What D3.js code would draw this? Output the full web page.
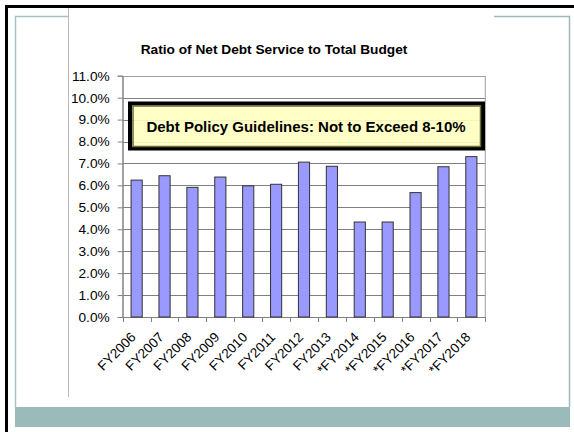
<!DOCTYPE html>
<html><head><meta charset="utf-8">
<script src="https://cdn.jsdelivr.net/npm/d3@7"></script>
<style>html,body{margin:0;padding:0;background:#fff;overflow:hidden;}svg{display:block;}</style>
</head><body>
<script>
const categories = ["FY2006","FY2007","FY2008","FY2009","FY2010","FY2011","FY2012","FY2013","*FY2014","*FY2015","*FY2016","*FY2017","*FY2018"];
const ratios = [6.24, 6.44, 5.91, 6.38, 5.98, 6.05, 7.06, 6.87, 4.33, 4.33, 5.67, 6.85, 7.31];
const yTicks = [0,1,2,3,4,5,6,7,8,9,10,11];
const titleText = "Ratio of Net Debt Service to Total Budget";
const noteText = "Debt Policy Guidelines: Not to Exceed 8-10%";

const W = 574, H = 432;
const svg = d3.select("body").append("svg").attr("width", W).attr("height", H);
const font = "'Liberation Sans', Arial, sans-serif";

// slide decoration
svg.append("rect").attr("x",0).attr("y",0).attr("width",W).attr("height",H).attr("fill","#fff");
svg.append("path").attr("d","M6.5,432 V6.5 H574").attr("fill","none").attr("stroke","#000").attr("stroke-width",3);
svg.append("path").attr("d","M15.5,407 V16.5 H68").attr("fill","none").attr("stroke","#a3c2c2").attr("stroke-width",1.5);
svg.append("path").attr("d","M494,16.5 H569.5 V407").attr("fill","none").attr("stroke","#9bbbbb").attr("stroke-width",1.5);
svg.append("rect").attr("x",15).attr("y",407).attr("width",555).attr("height",20).attr("fill","#9bbbbb");
svg.append("line").attr("x1",68.5).attr("x2",68.5).attr("y1",8).attr("y2",397).attr("stroke","#bbb").attr("stroke-width",1);

// chart
const m = {l:122.7, r:485.3, t:75.7, b:317};
const x = d3.scaleBand().domain(categories).range([m.l, m.r]).paddingInner(0).paddingOuter(0);
const y = d3.scaleLinear().domain([0, 11]).range([m.b, m.t]);

svg.append("text").attr("x",274).attr("y",54).attr("text-anchor","middle")
  .attr("font-family",font).attr("font-size",13.7).attr("font-weight","bold").text(titleText);

// gridlines
svg.append("g").selectAll("line").data(yTicks.filter(d=>d>0 && d<11)).join("line")
  .attr("x1",m.l).attr("x2",m.r).attr("y1",d=>Math.round(y(d))+0.5).attr("y2",d=>Math.round(y(d))+0.5)
  .attr("stroke","#808080").attr("stroke-width",1);
svg.append("rect").attr("x",m.l).attr("y",Math.round(y(11))+0.5).attr("width",m.r-m.l).attr("height",Math.round(y(0))-Math.round(y(11)))
  .attr("fill","none").attr("stroke","#a0a0a0").attr("stroke-width",1);

// y axis
const yAxis = d3.axisLeft(y).tickValues(yTicks).tickFormat(d=>d.toFixed(1)+"%").tickSize(5).tickPadding(8);
const gy = svg.append("g").attr("transform",`translate(${m.l},0)`).call(yAxis);
gy.select(".domain").attr("stroke","#808080");
gy.selectAll(".tick line").attr("stroke","#808080");
gy.selectAll("text").attr("font-family",font).attr("font-size",13.7).attr("fill","#000");

// x axis
const gx = svg.append("g").attr("transform",`translate(0,${m.b})`);
gx.append("line").attr("x1",m.l).attr("x2",m.r).attr("y1",0.5).attr("y2",0.5).attr("stroke","#808080");
const bounds = categories.map(c=>x(c)).concat([m.r]);
gx.selectAll(".tk").data(bounds).join("line").attr("class","tk")
  .attr("x1",d=>Math.round(d)+0.5).attr("x2",d=>Math.round(d)+0.5).attr("y1",0).attr("y2",5).attr("stroke","#808080");
gx.selectAll(".lbl").data(categories).join("text").attr("class","lbl")
  .attr("transform",d=>`translate(${x(d)+x.bandwidth()/2},${21}) rotate(-45)`)
  .attr("text-anchor","end").attr("font-family",font).attr("font-size",13.5).attr("fill","#000").text(d=>d);

// bars
const bw = x.bandwidth()*0.4;
svg.append("g").selectAll("rect").data(ratios).join("rect")
  .attr("x",(d,i)=>x(categories[i])+x.bandwidth()/2-bw/2).attr("width",bw)
  .attr("y",d=>y(d)).attr("height",d=>y(0)-y(d))
  .attr("fill","#9999ff").attr("stroke","#333").attr("stroke-width",1);

// annotation
svg.append("rect").attr("x",130).attr("y",103.5).attr("width",353).attr("height",45)
  .attr("fill","none").attr("stroke","#000").attr("stroke-width",4);
svg.append("rect").attr("x",133).attr("y",106).attr("width",347.5).attr("height",40.5)
  .attr("fill","#ffffc0").attr("fill-opacity",0.9).attr("stroke","#6b6b3a").attr("stroke-width",1.5);
svg.append("text").attr("x",306).attr("y",131.5).attr("text-anchor","middle")
  .attr("font-family",font).attr("font-size",15).attr("font-weight","bold").text(noteText);
</script>
</body></html>
